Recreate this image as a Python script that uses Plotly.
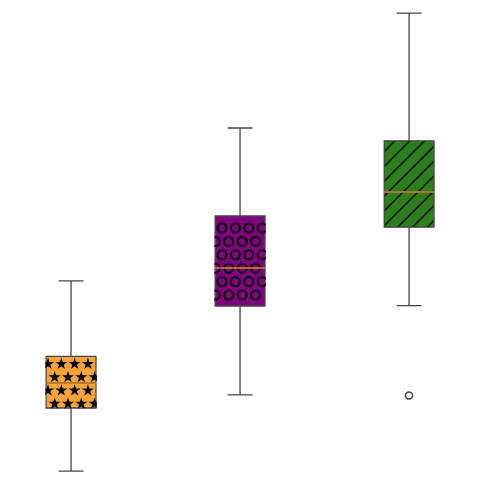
import numpy as np
import plotly.graph_objects as go

# box statistics
positions = [0, 1, 2]
lower = [0.22, 2.13, 4.36]
q1 = [1.80, 4.35, 6.32]
median = [2.42, 5.30, 7.20]
q3 = [3.09, 6.60, 8.48]
upper = [4.98, 8.80, 11.67]
outlier_x = [2]
outlier_y = [2.11]

fills = ["#F5A33A", "#800080", "#2E7D1F"]
hatched = [False, False, True]

box_w = 0.296
px_x = 2.84 / 480   # data units per pixel
px_y = 12 / 480


def pattern_points(center, lo, hi, x_start, y_start, step):
    # grid of marker centres inside a box, every other row shifted by half a step
    xs, ys = [], []
    left = center - box_w / 2
    right = center + box_w / 2
    y = hi - y_start * px_y
    row = 0
    while y > lo:
        x = left + (x_start + (step / 2 if row % 2 else 0)) * px_x
        x -= step * px_x * np.floor((x - left) / (step * px_x))
        while x < right:
            xs.append(x)
            ys.append(y)
            x += step * px_x
        y -= step * px_y
        row += 1
    return xs, ys


fig = go.Figure()

for p, a, b, c, h in zip(positions, q1, q3, fills, hatched):
    pat = dict(shape="/", fillmode="overlay", fgcolor="black", fgopacity=1,
               size=10.5, solidity=0.12) if h else dict(shape="")
    fig.add_trace(go.Bar(
        x=[p], base=[a], y=[b - a], width=box_w,
        marker=dict(color=c, line=dict(width=0), pattern=pat),
        hoverinfo="skip", showlegend=False,
    ))

sx, sy = pattern_points(positions[0], q1[0], q3[0], 2, 7.5, 13.3)
fig.add_trace(go.Scatter(
    x=sx, y=sy, mode="markers",
    marker=dict(symbol="star", size=9, color="black", line=dict(width=0)),
    hoverinfo="skip", showlegend=False,
))

cx, cy = pattern_points(positions[1], q1[1], q3[1], 7, 12, 13.4)
fig.add_trace(go.Scatter(
    x=cx, y=cy, mode="markers",
    marker=dict(symbol="circle-open", size=9, color="black", line=dict(width=2)),
    hoverinfo="skip", showlegend=False,
))

fig.add_trace(go.Box(
    x=positions, q1=q1, median=median, q3=q3,
    lowerfence=lower, upperfence=upper,
    width=box_w, whiskerwidth=0.5,
    fillcolor="rgba(0,0,0,0)",
    line=dict(color="#444444", width=1.3),
    hoverinfo="skip", showlegend=False,
))

for p, m in zip(positions, median):
    fig.add_trace(go.Scatter(
        x=[p - box_w / 2, p + box_w / 2], y=[m, m], mode="lines",
        line=dict(color="#D9822B", width=1.3),
        hoverinfo="skip", showlegend=False,
    ))

fig.add_trace(go.Scatter(
    x=outlier_x, y=outlier_y, mode="markers",
    marker=dict(symbol="circle-open", size=7, color="#444444", line=dict(width=1.5)),
    hoverinfo="skip", showlegend=False,
))

# white strips just outside the box sides so pattern marks stop at the edges
for p, a, b in zip(positions, q1, q3):
    for side in (-1, 1):
        inner = p + side * (box_w / 2 + 0.8 * px_x)
        outer = p + side * (box_w / 2 + 10 * px_x)
        fig.add_shape(type="rect", layer="above",
                      x0=min(inner, outer), x1=max(inner, outer),
                      y0=a - 6 * px_y, y1=b + 6 * px_y,
                      fillcolor="white", line=dict(width=0))

fig.update_layout(
    width=480, height=480,
    margin=dict(l=0, r=0, t=0, b=0),
    paper_bgcolor="white", plot_bgcolor="white",
    barmode="overlay",
    xaxis=dict(visible=False, range=[-0.373, 2.467]),
    yaxis=dict(visible=False, range=[-0.2, 11.8]),
)

fig.write_html("out.html")
